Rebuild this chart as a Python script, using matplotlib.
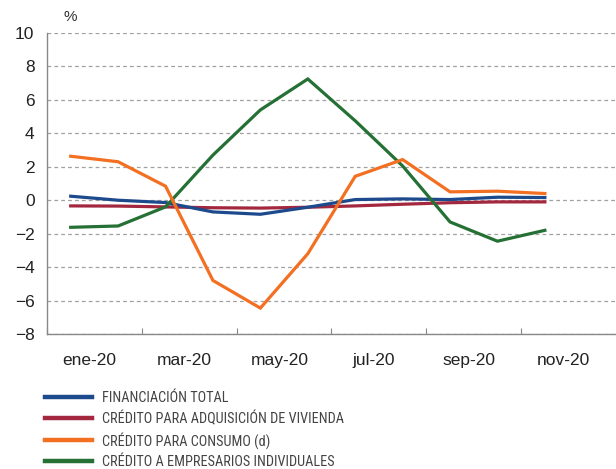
import numpy as np
import matplotlib
matplotlib.use('Agg')
import matplotlib.pyplot as plt
from matplotlib import font_manager
from matplotlib.lines import Line2D

# monthly data, ene-20 .. nov-20
months = ['ene-20', 'feb-20', 'mar-20', 'abr-20', 'may-20', 'jun-20',
          'jul-20', 'ago-20', 'sep-20', 'oct-20', 'nov-20']
tick_labels = ['ene-20', 'mar-20', 'may-20', 'jul-20', 'sep-20', 'nov-20']

financiacion_total = [0.24, 0.0, -0.14, -0.7, -0.84, -0.42, 0.04, 0.08, 0.04, 0.18, 0.16]
credito_vivienda = [-0.34, -0.35, -0.4, -0.45, -0.47, -0.42, -0.34, -0.24, -0.15, -0.1, -0.1]
credito_consumo = [2.63, 2.3, 0.84, -4.8, -6.45, -3.2, 1.43, 2.43, 0.5, 0.54, 0.4]
credito_empresarios = [-1.62, -1.54, -0.4, 2.7, 5.4, 7.25, 4.75, 2.05, -1.3, -2.45, -1.8]

series_labels = ['FINANCIACIÓN TOTAL', 'CRÉDITO PARA ADQUISICIÓN DE VIVIENDA',
                 'CRÉDITO PARA CONSUMO (d)', 'CRÉDITO A EMPRESARIOS INDIVIDUALES']
series_colors = ['#1c4a8c', '#a3283f', '#f36f21', '#257034']

plt.rcParams['font.family'] = ['Liberation Sans', 'DejaVu Sans']


def pick_font(names):
    for n in names:
        try:
            font_manager.findfont(n, fallback_to_default=False)
            return n
        except ValueError:
            pass
    return None


narrow = pick_font(['Liberation Sans Narrow', 'DejaVu Sans Condensed', 'Roboto Condensed'])
if narrow:
    legend_prop = {'family': [narrow, 'DejaVu Sans'], 'size': 10.3}
else:
    legend_prop = {'family': ['Liberation Sans', 'DejaVu Sans'], 'size': 9.5}

fig = plt.figure(figsize=(6.16, 4.69), dpi=100)
ax = fig.add_axes([47 / 616, 1 - 334 / 469, 1 - 47 / 616, (334 - 33) / 469])

x = np.arange(len(months))
ax.set_ylim(-8, 10)
ax.set_xlim(-0.5, 11.5)
ax.set_yticks(np.arange(-8, 11, 2))
ax.yaxis.grid(True, linestyle=(0, (3, 2.5)), color='#a0a0a0', linewidth=0.9)
ax.set_axisbelow(True)

for vals, col in zip([credito_vivienda, financiacion_total, credito_empresarios, credito_consumo],
                     [series_colors[1], series_colors[0], series_colors[3], series_colors[2]]):
    ax.plot(x, vals, color=col, linewidth=2.3, solid_joinstyle='miter')

# x axis: ticks between categories, labels every two months
ax.set_xticks(np.arange(-0.5, 11, 2))
ax.set_xticklabels([])
ax.set_xticks(np.arange(0.4, 11, 2), minor=True)
ax.set_xticklabels(tick_labels, minor=True)
ax.tick_params(axis='x', which='major', direction='in', length=4, color='#888888')
ax.tick_params(axis='x', which='minor', length=0, pad=14, labelsize=12.5, labelcolor='#222222')
ax.tick_params(axis='y', length=0, pad=9, labelsize=12.5, labelcolor='#222222')

for side in ['top', 'right']:
    ax.spines[side].set_visible(False)
for side in ['left', 'bottom']:
    ax.spines[side].set_color('#888888')
    ax.spines[side].set_linewidth(1.0)

fig.text(70 / 616, 1 - 17 / 469, '%', fontsize=11, color='#333333', ha='center', va='center')

handles = [Line2D([], [], color=c, linewidth=3.2) for c in series_colors]
fig.legend(handles, series_labels, loc='upper left', bbox_to_anchor=(39 / 616, 1 - 385 / 469),
           frameon=False, handlelength=3.3, handletextpad=0.7, labelspacing=0.42,
           borderaxespad=0, borderpad=0.4,
           prop=legend_prop, labelcolor='#444444')

fig.savefig('out.png', dpi=100)
